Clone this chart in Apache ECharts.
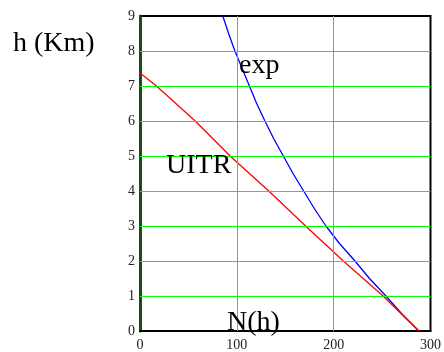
<!DOCTYPE html>
<html><head><meta charset="utf-8">
<script src="https://cdn.jsdelivr.net/npm/echarts@6/dist/echarts.min.js"></script>
<style>html,body{margin:0;padding:0;background:#fff}#c{width:444px;height:352px}</style>
</head><body><div id="c"></div>
<script>
// N values (x) and heights h (y)
const uitrN = [0, 17, 57, 93, 133, 171, 210, 251, 288];
const uitrH = [7.37, 7, 6, 5, 4, 3, 2, 1, 0];
const expN = [85.5, 91.5, 98, 105.5, 113, 120.5, 129, 138, 148, 158, 169, 180, 192, 206, 222, 237, 254, 270, 288];
const expH = [9, 8.5, 8, 7.5, 7, 6.5, 6, 5.5, 5, 4.5, 4, 3.5, 3, 2.5, 2, 1.5, 1, 0.5, 0];
const xTicks = [0, 100, 200, 300];
const yTicks = [0, 1, 2, 3, 4, 5, 6, 7, 8, 9];
const labels = { yTitle: 'h (Km)', xTitle: 'N(h)', s1: 'exp', s2: 'UITR' };

const font = '"Liberation Serif","Times New Roman",serif';
const green = '#00ff00';
const chart = echarts.init(document.getElementById('c'), null, {renderer: 'canvas'});
const zip = (xs, ys) => xs.map((x, i) => [x, ys[i]]);
const gridLines = [
  ...yTicks.slice(1, -1).map(v => ({yAxis: v})),
  ...xTicks.slice(1, -1).map(v => ({xAxis: v}))
];
chart.setOption({
  animation: false,
  grid: {left: 140, right: 13, top: 16, bottom: 12, show: true, borderColor: '#000', borderWidth: 2, backgroundColor: 'transparent'},
  xAxis: {
    type: 'value', min: xTicks[0], max: xTicks[xTicks.length - 1], interval: 100,
    axisLine: {show: true, lineStyle: {color: '#000', width: 2}},
    axisTick: {show: false},
    axisLabel: {color: '#222', fontFamily: font, fontSize: 14, margin: 7},
    splitLine: {show: false}
  },
  yAxis: {
    type: 'value', min: yTicks[0], max: yTicks[yTicks.length - 1], interval: 1,
    axisLine: {show: true, onZero: false, lineStyle: {color: '#1c4a1c', width: 3}},
    axisTick: {show: false},
    axisLabel: {color: '#222', fontFamily: font, fontSize: 14, margin: 5, padding: [5, 0, 0, 0]},
    splitLine: {show: false}
  },
  series: [
    {type: 'line', data: [], silent: true, z: 1,
     markLine: {silent: true, symbol: ['none', 'none'], label: {show: false}, animation: false,
       lineStyle: {color: green, width: 1, type: 'solid', opacity: 1}, emphasis: {disabled: true}, data: gridLines}},
    {type: 'line', data: zip(expN, expH), showSymbol: false, lineStyle: {color: '#0000ff', width: 1.3}, clip: true, z: 3},
    {type: 'line', data: zip(uitrN, uitrH), showSymbol: false, lineStyle: {color: '#ff0000', width: 1.3}, clip: true, z: 3}
  ],
  graphic: [
    {type: 'text', left: 13, top: 30, style: {text: labels.yTitle, font: '28px ' + font, fill: '#000'}},
    {type: 'text', left: 239, top: 52, style: {text: labels.s1, font: '28px ' + font, fill: '#000'}, z: 10},
    {type: 'text', left: 166, top: 152, style: {text: labels.s2, font: '28px ' + font, fill: '#000'}, z: 10},
    {type: 'text', left: 227, top: 309, style: {text: labels.xTitle, font: '28px ' + font, fill: '#000'}, z: 10}
  ]
});
</script></body></html>
